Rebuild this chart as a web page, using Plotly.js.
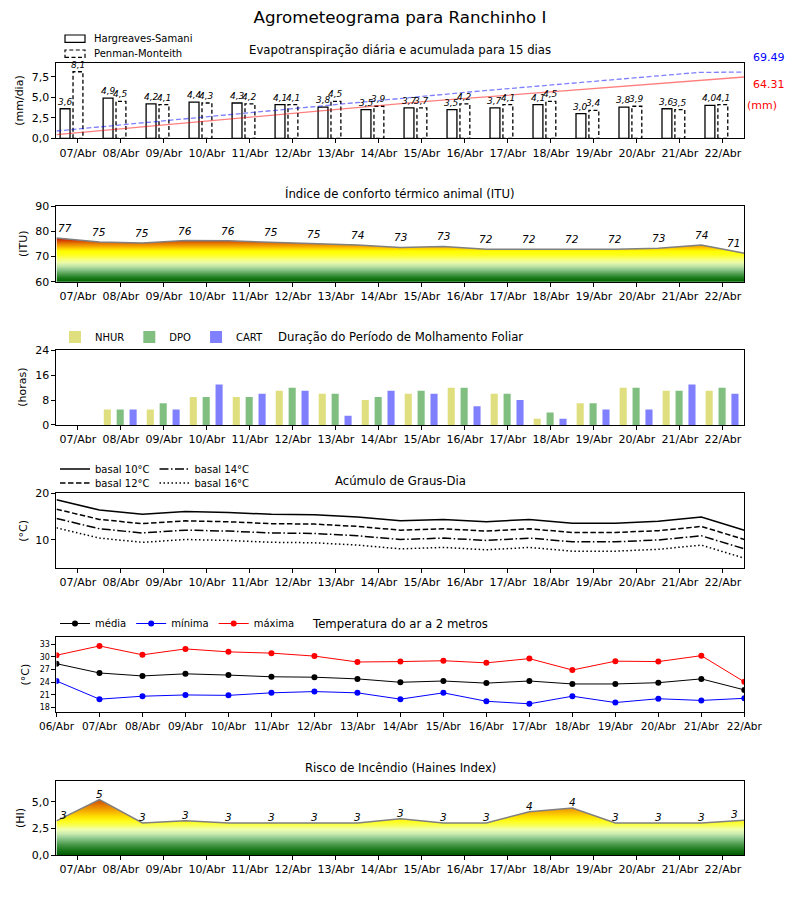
<!DOCTYPE html>
<html><head><meta charset="utf-8">
<script src="https://cdn.plot.ly/plotly-3.0.1.min.js"></script>
<style>html,body{margin:0;padding:0;background:#fff}</style>
</head><body><div id="chart" style="width:800px;height:900px"></div>
<script>
// ---------- DATA ----------
const dias = ['07/Abr','08/Abr','09/Abr','10/Abr','11/Abr','12/Abr','13/Abr','14/Abr','15/Abr','16/Abr','17/Abr','18/Abr','19/Abr','20/Abr','21/Abr','22/Abr'];
const diasTemp = ['06/Abr','07/Abr','08/Abr','09/Abr','10/Abr','11/Abr','12/Abr','13/Abr','14/Abr','15/Abr','16/Abr','17/Abr','18/Abr','19/Abr','20/Abr','21/Abr','22/Abr'];

const etHS = [3.6,4.9,4.2,4.4,4.3,4.1,3.8,3.5,3.7,3.5,3.7,4.1,3.0,3.8,3.6,4.0];
const etPM = [8.1,4.5,4.1,4.3,4.2,4.1,4.5,3.9,3.7,4.2,4.1,4.5,3.4,3.9,3.5,4.1];
const acumHS = [3.9,8.2,12.6,17.0,21.3,25.6,30.0,34.3,38.4,42.1,45.9,49.6,53.4,57.1,60.9,64.31];
const acumPM = [7.7,12.3,17.0,21.6,26.2,30.9,35.5,40.1,44.5,48.6,52.7,56.8,60.9,65.0,69.1,69.49];
const totalHS = '64.31';
const totalPM = '69.49';

const itu = [77.3,75.7,75.3,76.3,76.2,75.7,75.0,74.5,73.6,74.0,72.9,72.9,72.9,72.9,73.3,74.5,71.3];
const ituLabels = ['77','75','75','76','76','75','75','74','73','73','72','72','72','72','73','74','71'];

const nhur = [0,5,5,9,9,11,10,8,10,12,10,2,7,12,11,11];
const dpo  = [0,5,7,9,9,12,10,9,11,12,10,4,7,12,11,12];
const cart = [0,5,5,13,10,11,3,11,10,6,8,2,5,5,13,10];

const gd10 = [18.6,16.4,15.5,16.1,15.9,15.5,15.4,14.9,14.1,14.4,13.9,14.4,13.6,13.6,14.0,14.9,12.1];
const gd12 = [16.6,14.4,13.5,14.1,13.9,13.5,13.4,12.9,12.1,12.4,11.9,12.4,11.6,11.6,12.0,12.9,10.1];
const gd14 = [14.6,12.4,11.5,12.1,11.9,11.5,11.4,10.9,10.1,10.4,9.9,10.4,9.6,9.6,10.0,10.9,8.1];
const gd16 = [12.6,10.4,9.5,10.1,9.9,9.5,9.4,8.9,8.1,8.4,7.9,8.4,7.6,7.6,8.0,8.9,6.1];

const tMed = [28.4,26.2,25.5,26.0,25.7,25.3,25.2,24.8,24.0,24.3,23.8,24.3,23.6,23.6,23.9,24.8,22.2];
const tMin = [24.3,20.0,20.7,21.0,20.9,21.5,21.8,21.5,20.0,21.5,19.5,18.9,20.7,19.2,20.1,19.7,20.2];
const tMax = [30.4,32.6,30.5,31.9,31.2,30.9,30.2,28.8,28.9,29.1,28.6,29.6,26.9,29.0,28.9,30.3,24.1];

const haines = [3.2,5.2,3.0,3.2,3.0,3.0,3.0,3.0,3.4,3.0,3.0,4.06,4.4,3.0,3.0,3.0,3.25];
const hainesLabels = ['3','5','3','3','3','3','3','3','3','3','3','4','4','3','3','3','3'];

// ---------- HELPERS ----------
const FONT = 'DejaVu Sans, Verdana, sans-serif';
const idx = dias.map((d, i) => i);
const half = itu.map((v, k) => k - 0.5);       // points on day boundaries
const tIdx = diasTemp.map((d, i) => i);
const fmt = v => v.toFixed(1).replace('.', ',');
const yPx = px => 1 - px / 900;
const xPx = px => px / 800;

const XD = [0.0706, 0.9304];
const doms = [[0.8463,0.9297],[0.687,0.7711],[0.5278,0.6108],[0.3686,0.4519],[0.2086,0.2926],[0.05,0.1326]];

const axBase = {showline:true, mirror:true, linecolor:'black', linewidth:1, ticks:'outside', ticklen:4, tickwidth:1,
  tickcolor:'black', showgrid:false, zeroline:false, fixedrange:true, tickfont:{family:FONT, size:11, color:'black'}};

function xAx(anchor) {
  return Object.assign({}, axBase, {domain:XD, anchor:anchor, range:[-0.5,15.5], tickmode:'array', tickvals:idx, ticktext:dias});
}

const itucs = [[0,'#006400'],[0.087,'#1b7b1b'],[0.173,'#4c9c4c'],[0.26,'#84c084'],[0.347,'#bce2a4'],[0.434,'#eafaaa'],
  [0.52,'#f8ff70'],[0.607,'#ffff20'],[0.694,'#ffff00'],[0.75,'#ffd800'],[0.81,'#f5a800'],[0.867,'#e88000'],[0.925,'#d85000'],[1,'#c81000']];
const haicss = [[0,'#005a00'],[0.1,'#1e7a1e'],[0.19,'#4a9a4a'],[0.29,'#88c488'],[0.38,'#c8eab0'],[0.46,'#f0ffb0'],
  [0.54,'#f8ff50'],[0.6,'#ffff20'],[0.69,'#ffe000'],[0.77,'#f8b800'],[0.87,'#e88800'],[1,'#d04800']];

// PM dashed bar outlines
const pmX = [], pmY = [];
etPM.forEach((v, i) => { const a = i - 0.115, b = i + 0.115; pmX.push(a, a, b, b, a, null); pmY.push(0, v, v, 0, 0, null); });

const traces = [
  {type:'bar', x:idx, y:etHS, xaxis:'x', yaxis:'y', width:0.23, offset:-0.415, marker:{color:'white', line:{color:'black', width:1.3}}, showlegend:false, hoverinfo:'skip'},
  {type:'scatter', mode:'lines', x:pmX, y:pmY, xaxis:'x', yaxis:'y', fill:'toself', fillcolor:'white', line:{color:'black', width:1.3, dash:'4px,2.5px'}, showlegend:false, hoverinfo:'skip'},
  {type:'scatter', mode:'lines', x:idx, y:acumHS, xaxis:'x7', yaxis:'y7', line:{color:'rgba(255,0,0,0.5)', width:1.3}, showlegend:false, hoverinfo:'skip'},
  {type:'scatter', mode:'lines', x:idx, y:acumPM, xaxis:'x7', yaxis:'y7', line:{color:'rgba(0,0,255,0.5)', width:1.3, dash:'5px,2.5px'}, showlegend:false, hoverinfo:'skip'},

  {type:'scatter', mode:'lines', x:half, y:itu, xaxis:'x2', yaxis:'y2', fill:'tozeroy',
    fillgradient:{type:'vertical', colorscale:itucs, start:60, stop:77.3}, line:{color:'#808080', width:1.5}, showlegend:false, hoverinfo:'skip'},

  {type:'bar', name:'NHUR', x:idx, y:nhur, xaxis:'x3', yaxis:'y3', width:0.165, offset:-0.4, marker:{color:'#dfdf80'}, legend:'legend', hoverinfo:'skip'},
  {type:'bar', name:'DPO', x:idx, y:dpo, xaxis:'x3', yaxis:'y3', width:0.165, offset:-0.1, marker:{color:'#80bf80'}, legend:'legend', hoverinfo:'skip'},
  {type:'bar', name:'CART', x:idx, y:cart, xaxis:'x3', yaxis:'y3', width:0.165, offset:0.2, marker:{color:'#8080ff'}, legend:'legend', hoverinfo:'skip'},

  {type:'scatter', mode:'lines', name:'basal 10°C', x:half, y:gd10, xaxis:'x4', yaxis:'y4', line:{color:'black', width:1.5}, legend:'legend2', hoverinfo:'skip'},
  {type:'scatter', mode:'lines', name:'basal 14°C', x:half, y:gd14, xaxis:'x4', yaxis:'y4', line:{color:'black', width:1.5, dash:'9px,2.5px,1.5px,2.5px'}, legend:'legend2', hoverinfo:'skip'},
  {type:'scatter', mode:'lines', name:'basal 12°C', x:half, y:gd12, xaxis:'x4', yaxis:'y4', line:{color:'black', width:1.5, dash:'5.5px,2.5px'}, legend:'legend3', hoverinfo:'skip'},
  {type:'scatter', mode:'lines', name:'basal 16°C', x:half, y:gd16, xaxis:'x4', yaxis:'y4', line:{color:'black', width:1.5, dash:'1.5px,2.5px'}, legend:'legend3', hoverinfo:'skip'},

  {type:'scatter', mode:'lines+markers', name:'média', x:tIdx, y:tMed, xaxis:'x5', yaxis:'y5', line:{color:'black', width:1}, marker:{color:'black', size:6}, legend:'legend4', hoverinfo:'skip'},
  {type:'scatter', mode:'lines+markers', name:'mínima', x:tIdx, y:tMin, xaxis:'x5', yaxis:'y5', line:{color:'blue', width:1}, marker:{color:'blue', size:6}, legend:'legend4', hoverinfo:'skip'},
  {type:'scatter', mode:'lines+markers', name:'máxima', x:tIdx, y:tMax, xaxis:'x5', yaxis:'y5', line:{color:'red', width:1}, marker:{color:'red', size:6}, legend:'legend4', hoverinfo:'skip'},

  {type:'scatter', mode:'lines', x:half, y:haines, xaxis:'x6', yaxis:'y6', fill:'tozeroy',
    fillgradient:{type:'vertical', colorscale:haicss, start:0, stop:5.2}, line:{color:'#808080', width:1.5}, showlegend:false, hoverinfo:'skip'}
];

// ---------- ANNOTATIONS ----------
const ann = [];
const italic = (size) => ({family:FONT, size:size, color:'black', style:'italic'});
etHS.forEach((v, i) => ann.push({xref:'x', yref:'y', x:i - 0.3, y:v, text:fmt(v), showarrow:false, xanchor:'center', yanchor:'bottom', yshift:0, font:italic(9)}));
etPM.forEach((v, i) => ann.push({xref:'x', yref:'y', x:i, y:v, text:fmt(v), showarrow:false, xanchor:'center', yanchor:'bottom', yshift:0, font:italic(9)}));
itu.forEach((v, k) => ann.push({xref:'x2', yref:'y2', x:half[k], y:v, text:ituLabels[k], showarrow:false, xanchor:'center', yanchor:'bottom', yshift:2,
  xshift: k === 0 ? 9 : (k === itu.length - 1 ? -11 : 0), font:italic(10.5)}));
haines.forEach((v, k) => ann.push({xref:'x6', yref:'y6', x:half[k], y:v, text:hainesLabels[k], showarrow:false, xanchor:'center', yanchor:'middle', yshift:6,
  xshift: k === 0 ? 7 : (k === haines.length - 1 ? -10 : 0), font:italic(10.5)}));

const titles = [['Evapotranspiração diária e acumulada para 15 dias', 50], ['Índice de conforto térmico animal (ITU)', 194],
  ['Duração do Período de Molhamento Foliar', 337], ['Acúmulo de Graus-Dia', 481], ['Temperatura do ar a 2 metros', 623.5],
  ['Risco de Incêndio (Haines Index)', 767.5]];
titles.forEach(t => ann.push({xref:'paper', yref:'paper', x:0.5, y:yPx(t[1]), text:t[0], showarrow:false, xanchor:'center', yanchor:'middle', font:{family:FONT, size:11.7, color:'black'}}));

const ytitles = [['(mm/dia)', 20, 100.8], ['(ITU)', 24, 244], ['(horas)', 23, 387.7], ['(°C)', 24, 530.8], ['(°C)', 25, 674.5], ['(HI)', 20, 818]];
ytitles.forEach(t => ann.push({xref:'paper', yref:'paper', x:xPx(t[1]), y:yPx(t[2]), text:t[0], textangle:-90, showarrow:false, xanchor:'center', yanchor:'middle', font:{family:FONT, size:11, color:'black'}}));

ann.push({xref:'paper', yref:'paper', x:xPx(769), y:yPx(57.5), text:totalPM, showarrow:false, xanchor:'center', yanchor:'middle', font:{family:FONT, size:11, color:'blue'}});
ann.push({xref:'paper', yref:'paper', x:xPx(769), y:yPx(84.5), text:totalHS, showarrow:false, xanchor:'center', yanchor:'middle', font:{family:FONT, size:11, color:'red'}});
ann.push({xref:'paper', yref:'paper', x:xPx(761.5), y:yPx(105), text:'(mm)', showarrow:false, xanchor:'center', yanchor:'middle', font:{family:FONT, size:11, color:'red'}});

ann.push({xref:'paper', yref:'paper', x:xPx(92), y:yPx(38.7), text:'Hargreaves-Samani', showarrow:false, xanchor:'left', yanchor:'middle', font:{family:FONT, size:10, color:'black'}});
ann.push({xref:'paper', yref:'paper', x:xPx(92), y:yPx(53.6), text:'Penman-Monteith', showarrow:false, xanchor:'left', yanchor:'middle', font:{family:FONT, size:10, color:'black'}});

const shapes = [
  {type:'rect', xref:'paper', yref:'paper', x0:xPx(65), x1:xPx(85), y0:yPx(42.3), y1:yPx(35), fillcolor:'white', line:{color:'black', width:1.2}},
  {type:'rect', xref:'paper', yref:'paper', x0:xPx(65), x1:xPx(85), y0:yPx(57.3), y1:yPx(50), fillcolor:'white', line:{color:'black', width:1.2, dash:'4px,2.5px'}}
];

const legBase = {orientation:'h', xanchor:'left', yanchor:'middle', font:{family:FONT, size:10, color:'black'}, bgcolor:'rgba(0,0,0,0)', borderwidth:0};

const layout = {
  width:800, height:900, margin:{l:0, r:0, t:0, b:0}, paper_bgcolor:'white', plot_bgcolor:'white',
  separators:',.', hovermode:false, font:{family:FONT, color:'black'},
  title:{text:'Agrometeograma para Ranchinho I', x:0.5, xanchor:'center', y:yPx(17), yanchor:'middle', font:{family:FONT, size:16.7, color:'black'}},
  xaxis: xAx('y'), yaxis: Object.assign({}, axBase, {domain:doms[0], anchor:'x', range:[0,9.13], tickvals:[0,2.5,5,7.5], tickformat:'.1f'}),
  xaxis2: xAx('y2'), yaxis2: Object.assign({}, axBase, {domain:doms[1], anchor:'x2', range:[60,90], tickvals:[60,70,80,90]}),
  xaxis3: xAx('y3'), yaxis3: Object.assign({}, axBase, {domain:doms[2], anchor:'x3', range:[0,24], tickvals:[0,8,16,24]}),
  xaxis4: xAx('y4'), yaxis4: Object.assign({}, axBase, {domain:doms[3], anchor:'x4', range:[3.94,20], tickvals:[10,20]}),
  xaxis5: Object.assign({}, axBase, {domain:XD, anchor:'y5', range:[0,16], tickmode:'array', tickvals:tIdx, ticktext:diasTemp, tickfont:{family:FONT, size:10.5, color:'black'}}),
  yaxis5: Object.assign({}, axBase, {domain:doms[4], anchor:'x5', range:[16.9,34.8], tickvals:[18,21,24,27,30,33], tickfont:{family:FONT, size:8, color:'black'}}),
  xaxis6: xAx('y6'), yaxis6: Object.assign({}, axBase, {domain:doms[5], anchor:'x6', range:[0,6.97], tickvals:[0,2.5,5], tickformat:'.1f'}),
  xaxis7: {overlaying:'x', anchor:'y7', range:[0,15], visible:false, fixedrange:true},
  yaxis7: {overlaying:'y', anchor:'x7', range:[0,78.7], visible:false, fixedrange:true},
  legend: Object.assign({}, legBase, {x:xPx(55), y:yPx(337)}),
  legend2: Object.assign({}, legBase, {x:xPx(55), y:yPx(469)}),
  legend3: Object.assign({}, legBase, {x:xPx(55), y:yPx(483)}),
  legend4: Object.assign({}, legBase, {x:xPx(55), y:yPx(623.5)}),
  annotations: ann, shapes: shapes
};

Plotly.newPlot('chart', traces, layout, {staticPlot:true, displayModeBar:false});
</script></body></html>
